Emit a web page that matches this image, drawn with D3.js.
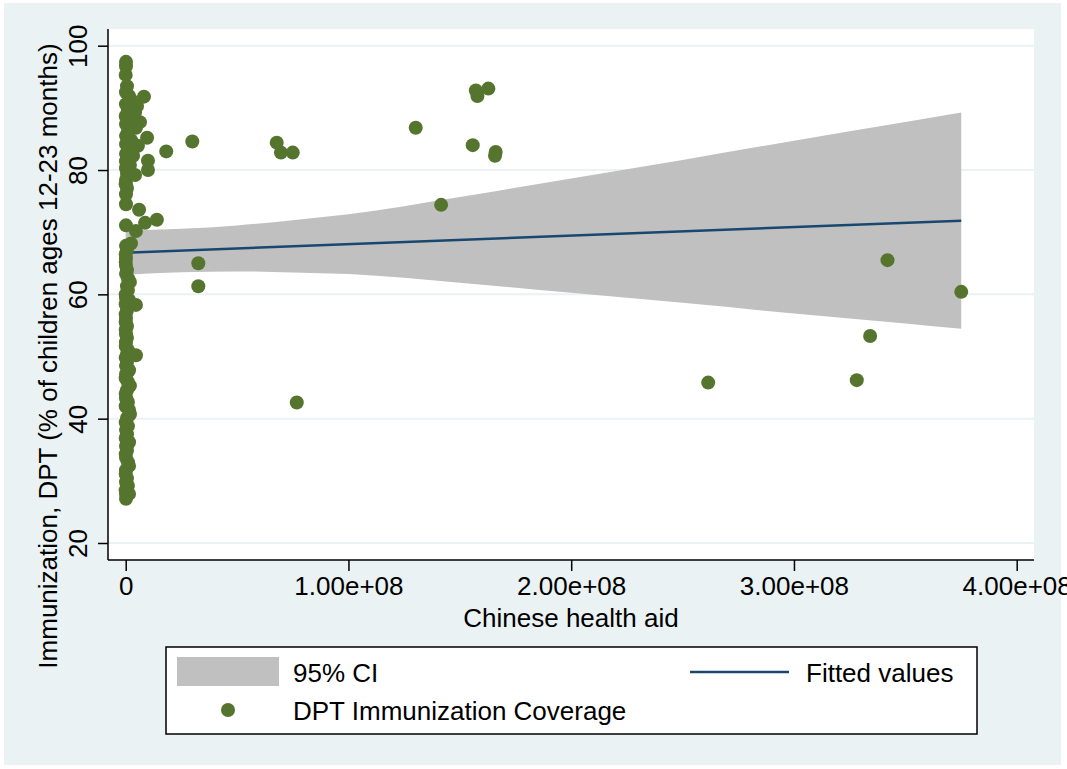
<!DOCTYPE html>
<html lang="en">
<head>
<meta charset="utf-8">
<title>DPT immunization vs Chinese health aid</title>
<script src="https://d3js.org/d3.v7.min.js"></script>
<style>
  body { margin: 0; background: #fff; }
  text { font-family: "Liberation Sans", Arial, Helvetica, sans-serif; fill: #000; }
</style>
</head>
<body>
<script>

// Chinese health aid (US$) for each country
var aid = [
  1.3e5, 1.3e5, 0, 5.8e5, 1.3e5, 1.5e6, 8.2e6, 2.4e6, 1.3e5, 5.1e6,
  1.0e6, 4.2e6, 0, 3.0e6, 6.4e6, 1.3e5, 4.6e6, 1.0e6, 1.3e5, 9.6e6,
  2.4e6, 1.3e5, 5.5e6, 1.0e6, 1.3e5, 3.3e6, 1.3e5, 1.0e7, 1.9e6, 1.3e5,
  1.0e7, 5.8e5, 4.2e6, 1.3e5, 0, 5.8e5, 1.3e5, 1.3e5, 6.0e6, 1.3e5,
  8.7e6, 1.4e7, 4.6e6, 2.4e6, 1.3e5, 5.8e5, 0, 1.3e5, 0, 1.3e5,
  5.8e5, 1.3e5, 1.0e6, 1.9e6, 5.8e5, 1.0e6, 0, 1.3e5, 1.5e6, 0,
  4.6e6, 5.8e5, 0, 1.3e5, 0, 5.8e5, 0, 1.3e5, 5.8e5, 1.3e5,
  0, 1.0e6, 5.8e5, 4.6e6, 0, 5.8e5, 1.3e5, 1.5e6, 1.3e5, 0,
  1.0e6, 1.9e6, 5.8e5, 0, 1.3e5, 1.0e6, 0, 1.5e6, 1.9e6, 5.8e5,
  0, 1.0e6, 1.3e5, 5.8e5, 0, 1.5e6, 1.3e5, 5.8e5, 0, 1.3e5,
  1.0e6, 1.5e6, 1.3e5, 0, 5.8e5, 1.3e5, 1.0e6, 0, 1.3e5, 1.5e6,
  1.3e5,
  1.82e7, 2.99e7, 3.26e7, 3.26e7, 6.78e7, 6.97e7, 7.50e7, 7.68e7,
  1.302e8, 1.416e8, 1.558e8, 1.572e8, 1.579e8, 1.628e8, 1.661e8, 1.658e8,
  2.615e8, 3.282e8, 3.342e8, 3.420e8, 3.751e8
];

// DPT immunization coverage (% of children ages 12-23 months)
var dpt = [
  97.4, 96.7, 95.3, 93.5, 92.5, 91.9, 91.8, 91.3, 90.6, 90.3,
  89.7, 89.3, 88.7, 88.4, 87.7, 87.4, 86.8, 86.1, 85.5, 85.2,
  84.8, 84.2, 83.9, 83.2, 82.6, 82.3, 81.4, 81.5, 80.8, 80.3,
  80.0, 79.4, 79.2, 78.4, 77.7, 77.1, 76.1, 74.5, 73.6, 71.1,
  71.5, 72.0, 70.2, 68.2, 67.8, 67.1, 66.5, 65.8, 65.2, 64.6,
  63.9, 63.3, 62.6, 62.0, 61.3, 60.7, 60.0, 59.4, 59.1, 58.4,
  58.3, 57.5, 56.8, 56.2, 55.5, 54.9, 54.3, 53.6, 53.0, 52.3,
  51.7, 51.0, 50.4, 50.2, 49.8, 49.1, 48.5, 47.8, 47.2, 46.5,
  45.9, 45.3, 44.6, 44.0, 43.3, 42.7, 42.0, 41.4, 40.7, 40.1,
  39.4, 38.8, 38.2, 37.5, 36.9, 36.2, 35.6, 34.9, 34.3, 33.7,
  33.0, 32.4, 31.7, 31.1, 30.4, 29.8, 29.2, 28.5, 27.9, 27.9,
  27.1,
  83.0, 84.6, 65.0, 61.3, 84.4, 82.8, 82.8, 42.6,
  86.8, 74.4, 84.0, 92.8, 91.9, 93.1, 82.9, 82.3,
  45.8, 46.2, 53.3, 65.5, 60.4
];

// fitted values (end points of the linear fit)
var fitX = [0, 3.751e8];
var fitY = [66.70, 71.85];

// 95% confidence band of the fit
var ciX = [0, 0.25e8, 0.5e8, 0.75e8, 1.0e8, 1.5e8, 2.0e8, 2.5e8, 3.0e8, 3.5e8, 3.751e8];
var ciLower = [63.15, 63.54, 63.69, 63.53, 63.27, 61.86, 60.25, 58.63, 56.92, 55.31, 54.45];
var ciUpper = [70.25, 70.54, 71.09, 71.93, 72.87, 75.66, 78.65, 81.63, 84.72, 87.71, 89.25];

// axis ticks
var xTicks = [0, 1e8, 2e8, 3e8, 4e8];
var xTickLabels = ["0", "1.00e+08", "2.00e+08", "3.00e+08", "4.00e+08"];
var yTicks = [20, 40, 60, 80, 100];

var w = 1067, h = 769;
var bgColor = "#eaf2f3";
var green = "#55752f";
var navy = "#1a476f";
var ciGray = "#c0c0c0";

// plot region box
var plot = { left: 108, right: 1034, top: 29, bottom: 560 };

var x = d3.scaleLinear().domain([0, 4e8]).range([125.7, 1016.7]);
var y = d3.scaleLinear().domain([20, 100]).range([543, 45.7]);

var svg = d3.select("body").append("svg")
  .attr("width", w)
  .attr("height", h);

// graph region background
svg.append("rect")
  .attr("x", 4).attr("y", 3)
  .attr("width", 1057).attr("height", 762)
  .attr("fill", bgColor);

// plot region
svg.append("rect")
  .attr("x", plot.left).attr("y", plot.top)
  .attr("width", plot.right - plot.left)
  .attr("height", plot.bottom - plot.top)
  .attr("fill", "#fff");

// gridlines
svg.append("g").selectAll("line")
  .data(yTicks)
  .enter().append("line")
  .attr("x1", plot.left).attr("x2", plot.right)
  .attr("y1", d => y(d)).attr("y2", d => y(d))
  .attr("stroke", bgColor)
  .attr("stroke-width", 2);

// confidence band
var band = ciX.map((v, i) => ({ x: v, lo: ciLower[i], hi: ciUpper[i] }));
svg.append("path")
  .datum(band)
  .attr("d", d3.area()
    .x(d => x(d.x))
    .y0(d => y(d.lo))
    .y1(d => y(d.hi))
    .curve(d3.curveMonotoneX))
  .attr("fill", ciGray);

// fitted line
svg.append("line")
  .attr("x1", x(fitX[0])).attr("y1", y(fitY[0]))
  .attr("x2", x(fitX[1])).attr("y2", y(fitY[1]))
  .attr("stroke", navy)
  .attr("stroke-width", 2.5);

// scatter points
svg.append("g").selectAll("circle")
  .data(aid.map((v, i) => [v, dpt[i]]))
  .enter().append("circle")
  .attr("cx", d => x(d[0]))
  .attr("cy", d => y(d[1]))
  .attr("r", 7)
  .attr("fill", green);

// axis lines
svg.append("line")
  .attr("x1", plot.left).attr("x2", plot.left)
  .attr("y1", plot.top).attr("y2", plot.bottom)
  .attr("stroke", "#000").attr("stroke-width", 1.5);
svg.append("line")
  .attr("x1", plot.left).attr("x2", plot.right)
  .attr("y1", plot.bottom).attr("y2", plot.bottom)
  .attr("stroke", "#000").attr("stroke-width", 1.5);

// x axis
var xAxis = svg.append("g")
  .attr("transform", "translate(0," + plot.bottom + ")")
  .call(d3.axisBottom(x)
    .tickValues(xTicks)
    .tickFormat((d, i) => xTickLabels[i])
    .tickSize(11)
    .tickPadding(6));
xAxis.select(".domain").remove();
xAxis.selectAll("line").attr("stroke-width", 1.5);
xAxis.selectAll("text")
  .attr("font-size", 26)
  .attr("font-family", "Liberation Sans, Arial, sans-serif")
  .attr("fill", "#000");

// y axis (labels rotated, as in Stata)
var yAxis = svg.append("g")
  .attr("transform", "translate(" + plot.left + ",0)")
  .call(d3.axisLeft(y)
    .tickValues(yTicks)
    .tickSize(10));
yAxis.select(".domain").remove();
yAxis.selectAll("line").attr("stroke-width", 1.5);
yAxis.selectAll("text")
  .attr("x", null).attr("y", null).attr("dy", null)
  .attr("text-anchor", "middle")
  .attr("transform", "translate(-21,0) rotate(-90)")
  .attr("font-size", 26)
  .attr("font-family", "Liberation Sans, Arial, sans-serif")
  .attr("fill", "#000");

// axis titles
svg.append("text")
  .attr("x", (plot.left + plot.right) / 2)
  .attr("y", 627)
  .attr("text-anchor", "middle")
  .attr("font-size", 26)
  .text("Chinese health aid");

svg.append("text")
  .attr("transform", "translate(57," + 356 + ") rotate(-90)")
  .attr("text-anchor", "middle")
  .attr("font-size", 26)
  .text("Immunization, DPT (% of children ages 12-23 months)");

// legend
var legend = svg.append("g");
legend.append("rect")
  .attr("x", 166).attr("y", 647)
  .attr("width", 811).attr("height", 87)
  .attr("fill", "#fff")
  .attr("stroke", "#000")
  .attr("stroke-width", 1.5);
legend.append("rect")
  .attr("x", 177).attr("y", 657)
  .attr("width", 102).attr("height", 29)
  .attr("fill", ciGray);
legend.append("text")
  .attr("x", 293).attr("y", 682)
  .attr("font-size", 26)
  .text("95% CI");
legend.append("line")
  .attr("x1", 690).attr("x2", 789)
  .attr("y1", 672).attr("y2", 672)
  .attr("stroke", navy)
  .attr("stroke-width", 2.5);
legend.append("text")
  .attr("x", 806).attr("y", 682)
  .attr("font-size", 26)
  .text("Fitted values");
legend.append("circle")
  .attr("cx", 228).attr("cy", 710)
  .attr("r", 7)
  .attr("fill", green);
legend.append("text")
  .attr("x", 293).attr("y", 720)
  .attr("font-size", 26)
  .text("DPT Immunization Coverage");

</script>
</body>
</html>
